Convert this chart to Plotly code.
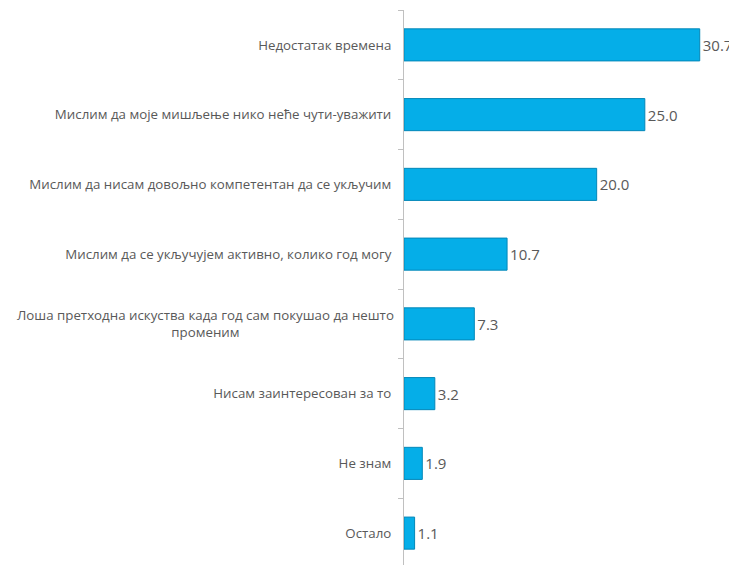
import plotly.graph_objects as go

# Survey answers (Serbian Cyrillic), top to bottom
categories = [
    'Недостатак времена',
    'Мислим да моје мишљење нико неће чути-уважити',
    'Мислим да нисам довољно компетентан да се укључим',
    'Мислим да се укључујем активно, колико год могу',
    'Лоша претходна искуства када год сам покушао да нешто<br>променим',
    'Нисам заинтересован за то',
    'Не знам',
    'Остало',
]
values = [30.7, 25.0, 20.0, 10.7, 7.3, 3.2, 1.9, 1.1]
value_labels = ['30.7', '25.0', '20.0', '10.7', '7.3', '3.2', '1.9', '1.1']

label_font = dict(family='Open Sans, sans-serif', size=13.3, color='#595959')

# two-line label is drawn as centered annotation, the rest as tick labels
tick_text = ['' if '<br>' in c else c for c in categories]

trace = go.Bar(
    x=values,
    y=categories,
    orientation='h',
    marker=dict(color='#05aee8', line=dict(color='#0387b8', width=1)),
    text=value_labels,
    textposition='outside',
    textfont=dict(family='Open Sans, sans-serif', size=15, color='#595959'),
    cliponaxis=False,
)

annotations = [
    dict(
        x=0, xref='paper', y=c, yref='y',
        text=c, showarrow=False, xanchor='right', xshift=-8,
        align='center', font=label_font,
    )
    for c in categories if '<br>' in c
]

layout = go.Layout(
    width=737,
    height=565,
    margin=dict(l=396, r=0, t=2, b=5),
    paper_bgcolor='white',
    plot_bgcolor='white',
    bargap=0.54,
    showlegend=False,
    annotations=annotations,
    xaxis=dict(range=[0, 35.4], visible=False, showgrid=False, zeroline=False),
    yaxis=dict(
        autorange='reversed',
        automargin=False,
        showline=True,
        linecolor='#c0c0c0',
        linewidth=1,
        ticks='outside',
        tickson='boundaries',
        ticklen=5,
        tickcolor='#c0c0c0',
        tickmode='array',
        tickvals=categories,
        ticktext=tick_text,
        ticklabelstandoff=9,
        tickfont=label_font,
        showgrid=False,
    ),
)

fig = go.Figure(data=[trace], layout=layout)
fig.write_html("out.html")
